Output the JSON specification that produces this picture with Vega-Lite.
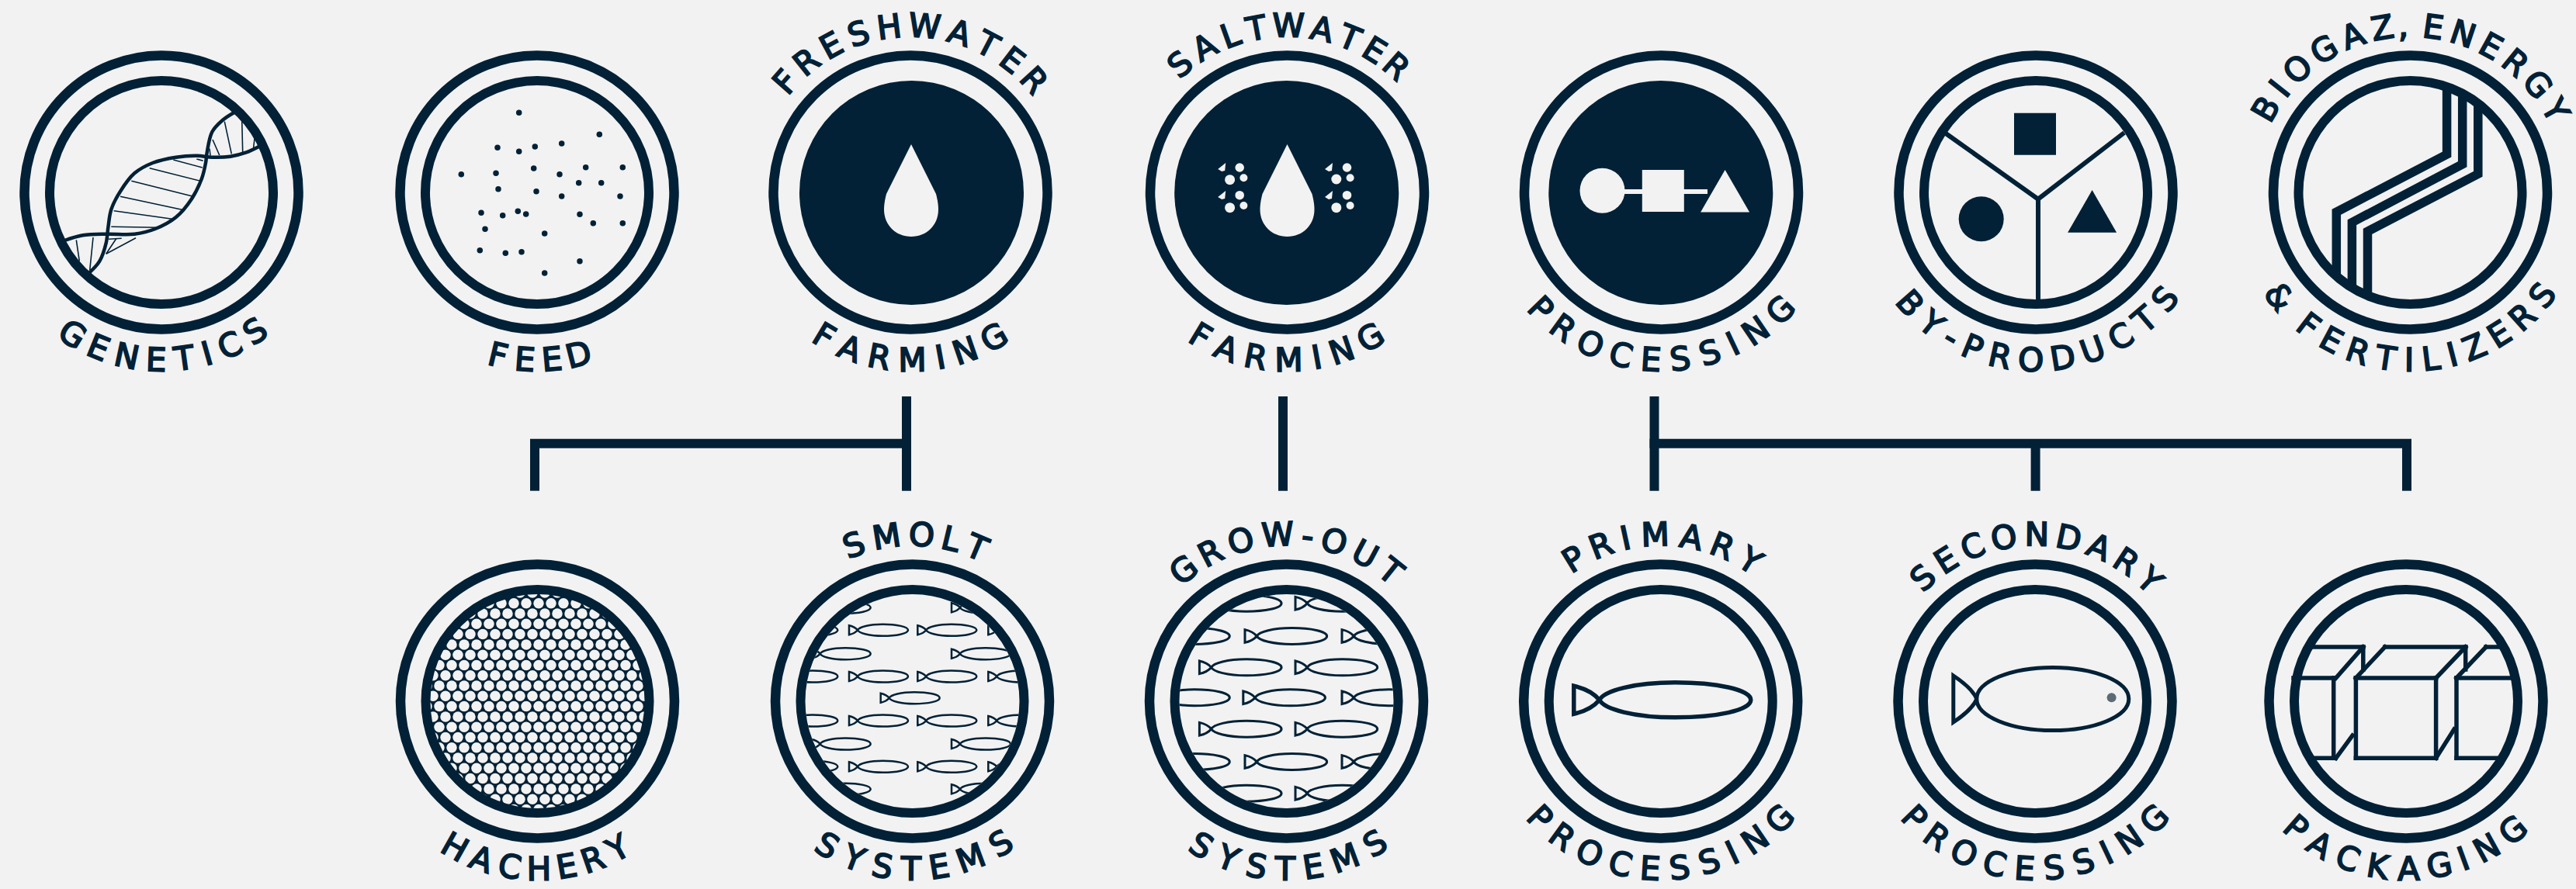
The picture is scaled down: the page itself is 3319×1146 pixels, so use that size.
{"$schema":"https://vega.github.io/schema/vega-lite/v6.json","autosize":{"type":"none"},"width":3319,"height":1146,"padding":0,"background":"#f2f2f2","config":{"view":{"stroke":null}},
"datasets":{
"rings":[{"x":208,"y":248,"inner":true},{"x":692,"y":248,"inner":true},{"x":1173,"y":248,"inner":false},{"x":1658.5,"y":248,"inner":false},{"x":2140.5,"y":248,"inner":false},{"x":2623,"y":248,"inner":true},{"x":3105.5,"y":248,"inner":true},{"x":692.5,"y":904,"inner":true},{"x":1175.5,"y":904,"inner":true},{"x":1657.5,"y":904,"inner":true},{"x":2139.7,"y":904,"inner":true},{"x":2622,"y":904,"inner":true},{"x":3100,"y":904,"inner":true}],
"disks":[{"x":1174.5,"y":248.5},{"x":1657.7,"y":248.5},{"x":2139.8,"y":248.5}],
"conn":[{"x":683,"y":571.8,"x2":1174,"y2":571.8},{"x":689,"y":566,"x2":689,"y2":632.7},{"x":1168,"y":511,"x2":1168,"y2":632.7},{"x":1653,"y":511,"x2":1653,"y2":632.7},{"x":2125.5,"y":571.8,"x2":3107,"y2":571.8},{"x":2131.5,"y":511,"x2":2131.5,"y2":632.7},{"x":2622.6,"y":566,"x2":2622.6,"y2":632.7},{"x":3101,"y":566,"x2":3101,"y2":632.7}],
"holes":[{"x":654,"y":764},{"x":670,"y":764},{"x":686,"y":764},{"x":702,"y":764},{"x":718,"y":764},
{"x":630,"y":777.7},{"x":646,"y":777.7},{"x":662,"y":777.7},{"x":678,"y":777.7},{"x":694,"y":777.7},{"x":710,"y":777.7},{"x":726,"y":777.7},{"x":742,"y":777.7},{"x":758,"y":777.7},
{"x":606,"y":791},{"x":622,"y":791},{"x":638,"y":791},{"x":654,"y":791},{"x":670,"y":791},{"x":686,"y":791},{"x":702,"y":791},{"x":718,"y":791},{"x":734,"y":791},{"x":750,"y":791},{"x":766,"y":791},{"x":782,"y":791},
{"x":598,"y":804.3},{"x":614,"y":804.3},{"x":630,"y":804.3},{"x":646,"y":804.3},{"x":662,"y":804.3},{"x":678,"y":804.3},{"x":694,"y":804.3},{"x":710,"y":804.3},{"x":726,"y":804.3},{"x":742,"y":804.3},{"x":758,"y":804.3},{"x":774,"y":804.3},{"x":790,"y":804.3},
{"x":590,"y":817.6},{"x":606,"y":817.6},{"x":622,"y":817.6},{"x":638,"y":817.6},{"x":654,"y":817.6},{"x":670,"y":817.6},{"x":686,"y":817.6},{"x":702,"y":817.6},{"x":718,"y":817.6},{"x":734,"y":817.6},{"x":750,"y":817.6},{"x":766,"y":817.6},{"x":782,"y":817.6},{"x":798,"y":817.6},
{"x":582,"y":830.9},{"x":598,"y":830.9},{"x":614,"y":830.9},{"x":630,"y":830.9},{"x":646,"y":830.9},{"x":662,"y":830.9},{"x":678,"y":830.9},{"x":694,"y":830.9},{"x":710,"y":830.9},{"x":726,"y":830.9},{"x":742,"y":830.9},{"x":758,"y":830.9},{"x":774,"y":830.9},{"x":790,"y":830.9},{"x":806,"y":830.9},
{"x":574,"y":844.2},{"x":590,"y":844.2},{"x":606,"y":844.2},{"x":622,"y":844.2},{"x":638,"y":844.2},{"x":654,"y":844.2},{"x":670,"y":844.2},{"x":686,"y":844.2},{"x":702,"y":844.2},{"x":718,"y":844.2},{"x":734,"y":844.2},{"x":750,"y":844.2},{"x":766,"y":844.2},{"x":782,"y":844.2},{"x":798,"y":844.2},{"x":814,"y":844.2},
{"x":566,"y":857.4},{"x":582,"y":857.4},{"x":598,"y":857.4},{"x":614,"y":857.4},{"x":630,"y":857.4},{"x":646,"y":857.4},{"x":662,"y":857.4},{"x":678,"y":857.4},{"x":694,"y":857.4},{"x":710,"y":857.4},{"x":726,"y":857.4},{"x":742,"y":857.4},{"x":758,"y":857.4},{"x":774,"y":857.4},{"x":790,"y":857.4},{"x":806,"y":857.4},{"x":822,"y":857.4},
{"x":558,"y":870.7},{"x":574,"y":870.7},{"x":590,"y":870.7},{"x":606,"y":870.7},{"x":622,"y":870.7},{"x":638,"y":870.7},{"x":654,"y":870.7},{"x":670,"y":870.7},{"x":686,"y":870.7},{"x":702,"y":870.7},{"x":718,"y":870.7},{"x":734,"y":870.7},{"x":750,"y":870.7},{"x":766,"y":870.7},{"x":782,"y":870.7},{"x":798,"y":870.7},{"x":814,"y":870.7},{"x":830,"y":870.7},
{"x":550,"y":884},{"x":566,"y":884},{"x":582,"y":884},{"x":598,"y":884},{"x":614,"y":884},{"x":630,"y":884},{"x":646,"y":884},{"x":662,"y":884},{"x":678,"y":884},{"x":694,"y":884},{"x":710,"y":884},{"x":726,"y":884},{"x":742,"y":884},{"x":758,"y":884},{"x":774,"y":884},{"x":790,"y":884},{"x":806,"y":884},{"x":822,"y":884},
{"x":558,"y":897.3},{"x":574,"y":897.3},{"x":590,"y":897.3},{"x":606,"y":897.3},{"x":622,"y":897.3},{"x":638,"y":897.3},{"x":654,"y":897.3},{"x":670,"y":897.3},{"x":686,"y":897.3},{"x":702,"y":897.3},{"x":718,"y":897.3},{"x":734,"y":897.3},{"x":750,"y":897.3},{"x":766,"y":897.3},{"x":782,"y":897.3},{"x":798,"y":897.3},{"x":814,"y":897.3},{"x":830,"y":897.3},
{"x":550,"y":910.6},{"x":566,"y":910.6},{"x":582,"y":910.6},{"x":598,"y":910.6},{"x":614,"y":910.6},{"x":630,"y":910.6},{"x":646,"y":910.6},{"x":662,"y":910.6},{"x":678,"y":910.6},{"x":694,"y":910.6},{"x":710,"y":910.6},{"x":726,"y":910.6},{"x":742,"y":910.6},{"x":758,"y":910.6},{"x":774,"y":910.6},{"x":790,"y":910.6},{"x":806,"y":910.6},{"x":822,"y":910.6},
{"x":558,"y":923.9},{"x":574,"y":923.9},{"x":590,"y":923.9},{"x":606,"y":923.9},{"x":622,"y":923.9},{"x":638,"y":923.9},{"x":654,"y":923.9},{"x":670,"y":923.9},{"x":686,"y":923.9},{"x":702,"y":923.9},{"x":718,"y":923.9},{"x":734,"y":923.9},{"x":750,"y":923.9},{"x":766,"y":923.9},{"x":782,"y":923.9},{"x":798,"y":923.9},{"x":814,"y":923.9},{"x":830,"y":923.9},
{"x":566,"y":937.2},{"x":582,"y":937.2},{"x":598,"y":937.2},{"x":614,"y":937.2},{"x":630,"y":937.2},{"x":646,"y":937.2},{"x":662,"y":937.2},{"x":678,"y":937.2},{"x":694,"y":937.2},{"x":710,"y":937.2},{"x":726,"y":937.2},{"x":742,"y":937.2},{"x":758,"y":937.2},{"x":774,"y":937.2},{"x":790,"y":937.2},{"x":806,"y":937.2},{"x":822,"y":937.2},
{"x":558,"y":950.4},{"x":574,"y":950.4},{"x":590,"y":950.4},{"x":606,"y":950.4},{"x":622,"y":950.4},{"x":638,"y":950.4},{"x":654,"y":950.4},{"x":670,"y":950.4},{"x":686,"y":950.4},{"x":702,"y":950.4},{"x":718,"y":950.4},{"x":734,"y":950.4},{"x":750,"y":950.4},{"x":766,"y":950.4},{"x":782,"y":950.4},{"x":798,"y":950.4},{"x":814,"y":950.4},
{"x":566,"y":963.7},{"x":582,"y":963.7},{"x":598,"y":963.7},{"x":614,"y":963.7},{"x":630,"y":963.7},{"x":646,"y":963.7},{"x":662,"y":963.7},{"x":678,"y":963.7},{"x":694,"y":963.7},{"x":710,"y":963.7},{"x":726,"y":963.7},{"x":742,"y":963.7},{"x":758,"y":963.7},{"x":774,"y":963.7},{"x":790,"y":963.7},{"x":806,"y":963.7},{"x":822,"y":963.7},
{"x":574,"y":977},{"x":590,"y":977},{"x":606,"y":977},{"x":622,"y":977},{"x":638,"y":977},{"x":654,"y":977},{"x":670,"y":977},{"x":686,"y":977},{"x":702,"y":977},{"x":718,"y":977},{"x":734,"y":977},{"x":750,"y":977},{"x":766,"y":977},{"x":782,"y":977},{"x":798,"y":977},{"x":814,"y":977},
{"x":582,"y":990.3},{"x":598,"y":990.3},{"x":614,"y":990.3},{"x":630,"y":990.3},{"x":646,"y":990.3},{"x":662,"y":990.3},{"x":678,"y":990.3},{"x":694,"y":990.3},{"x":710,"y":990.3},{"x":726,"y":990.3},{"x":742,"y":990.3},{"x":758,"y":990.3},{"x":774,"y":990.3},{"x":790,"y":990.3},{"x":806,"y":990.3},
{"x":590,"y":1003.6},{"x":606,"y":1003.6},{"x":622,"y":1003.6},{"x":638,"y":1003.6},{"x":654,"y":1003.6},{"x":670,"y":1003.6},{"x":686,"y":1003.6},{"x":702,"y":1003.6},{"x":718,"y":1003.6},{"x":734,"y":1003.6},{"x":750,"y":1003.6},{"x":766,"y":1003.6},{"x":782,"y":1003.6},{"x":798,"y":1003.6},
{"x":614,"y":1016.9},{"x":630,"y":1016.9},{"x":646,"y":1016.9},{"x":662,"y":1016.9},{"x":678,"y":1016.9},{"x":694,"y":1016.9},{"x":710,"y":1016.9},{"x":726,"y":1016.9},{"x":742,"y":1016.9},{"x":758,"y":1016.9},{"x":774,"y":1016.9},
{"x":622,"y":1030.2},{"x":638,"y":1030.2},{"x":654,"y":1030.2},{"x":670,"y":1030.2},{"x":686,"y":1030.2},{"x":702,"y":1030.2},{"x":718,"y":1030.2},{"x":734,"y":1030.2},{"x":750,"y":1030.2},
{"x":662,"y":1043.4},{"x":678,"y":1043.4},{"x":694,"y":1043.4},{"x":710,"y":1043.4},{"x":726,"y":1043.4}],
"smolt":[{"x":1045.7,"y":783.3},{"x":1226,"y":783.3},{"x":1003.3,"y":812.3},{"x":1094,"y":812.3},{"x":1182.3,"y":812.3},{"x":1273.3,"y":812.3},{"x":1045.7,"y":842.7},{"x":1226,"y":842.7},{"x":1003.3,"y":872},{"x":1094,"y":872},{"x":1182.3,"y":872},{"x":1273.3,"y":872},{"x":1134.7,"y":899.7},{"x":1003.3,"y":929},{"x":1094,"y":929},{"x":1182.3,"y":929},{"x":1273.3,"y":929},{"x":1045.7,"y":959},{"x":1226,"y":959},{"x":1003.3,"y":988.3},{"x":1094,"y":988.3},{"x":1182.3,"y":988.3},{"x":1273.3,"y":988.3},{"x":1045.7,"y":1017.3},{"x":1226,"y":1017.3}],
"grow":[{"x":1545.4,"y":777.7},{"x":1669,"y":777.7},{"x":1478.6,"y":820},{"x":1604,"y":820},{"x":1729,"y":820},{"x":1545.4,"y":860.3},{"x":1669,"y":860.3},{"x":1478.6,"y":899.3},{"x":1601.8,"y":899.3},{"x":1729,"y":899.3},{"x":1545.4,"y":939.7},{"x":1669,"y":939.7},{"x":1478.6,"y":982},{"x":1604,"y":982},{"x":1729,"y":982},{"x":1545.4,"y":1022.7},{"x":1669,"y":1022.7}],
"dnaRungs":[{"x":98.3,"y":309.3,"x2":102.3,"y2":336.7},{"x":120,"y":306,"x2":115.7,"y2":348.3},{"x":150,"y":307.3,"x2":136.7,"y2":327.3},{"x":175,"y":306.7,"x2":136.7,"y2":327.3},{"x":156.7,"y":307.3,"x2":140,"y2":308.3},{"x":143.3,"y":292.3,"x2":203.3,"y2":293.3},{"x":146.7,"y":271.7,"x2":221.7,"y2":282.3},{"x":155,"y":253.3,"x2":236.7,"y2":270.7},{"x":169.3,"y":233.3,"x2":249,"y2":253.3},{"x":192.7,"y":216.7,"x2":258.3,"y2":233.3},{"x":223.3,"y":206,"x2":260.7,"y2":216},{"x":253.3,"y":205,"x2":261.7,"y2":207.3},{"x":270,"y":191.7,"x2":271,"y2":200.7},{"x":274,"y":180,"x2":282.7,"y2":200},{"x":289.3,"y":156.7,"x2":298.3,"y2":198.3},{"x":311.7,"y":155,"x2":312.7,"y2":196},{"x":328,"y":178.3,"x2":326.7,"y2":190}],
"dnaStrands":[{"s":"A","o":0,"x":83.3,"y":310},{"s":"A","o":1,"x":106.7,"y":303.3},{"s":"A","o":2,"x":138.3,"y":301.7},{"s":"A","o":3,"x":173.3,"y":301.7},{"s":"A","o":4,"x":200,"y":295},{"s":"A","o":5,"x":226.7,"y":280},{"s":"A","o":6,"x":246.7,"y":256.7},{"s":"A","o":7,"x":260,"y":230},{"s":"A","o":8,"x":265,"y":210},{"s":"A","o":9,"x":266.7,"y":196.7},{"s":"A","o":10,"x":273.3,"y":170},{"s":"A","o":11,"x":286.7,"y":155},{"s":"A","o":12,"x":301.7,"y":145},
{"s":"B","o":0,"x":115,"y":351.7},{"s":"B","o":1,"x":128.3,"y":336.7},{"s":"B","o":2,"x":136.7,"y":313.3},{"s":"B","o":3,"x":139.3,"y":293.3},{"s":"B","o":4,"x":143.3,"y":270},{"s":"B","o":5,"x":155,"y":246.7},{"s":"B","o":6,"x":173.3,"y":223.3},{"s":"B","o":7,"x":196.7,"y":210},{"s":"B","o":8,"x":226.7,"y":202.7},{"s":"B","o":9,"x":253.3,"y":200.7},{"s":"B","o":10,"x":273.3,"y":202.7},{"s":"B","o":11,"x":296.7,"y":201.7},{"s":"B","o":12,"x":316.7,"y":196.7},{"s":"B","o":13,"x":335,"y":188.3}],
"feed":[{"x":668.7,"y":145.3},{"x":772.3,"y":173.3},{"x":641,"y":190.3},{"x":668.7,"y":195.3},{"x":689.3,"y":189},{"x":723.7,"y":185},{"x":594.3,"y":224.7},{"x":639,"y":223.3},{"x":687.7,"y":217},{"x":721,"y":224.7},{"x":754.7,"y":215.7},{"x":802.3,"y":215.7},{"x":745.7,"y":235.7},{"x":774.7,"y":235.7},{"x":642,"y":243.7},{"x":691,"y":246.7},{"x":723.7,"y":253},{"x":799,"y":253},{"x":620,"y":274.3},{"x":647.7,"y":277.7},{"x":667.3,"y":272.3},{"x":677.7,"y":276},{"x":747,"y":276.3},{"x":764.3,"y":287.7},{"x":802.3,"y":287.7},{"x":625,"y":295.3},{"x":701.7,"y":301},{"x":618.3,"y":322.7},{"x":651.3,"y":326.3},{"x":672,"y":324.7},{"x":747,"y":336.7},{"x":701.7,"y":352}],
"specks":[{"x":1584.6,"y":231.7,"k":"large"},{"x":1584.6,"y":267.7,"k":"large"},{"x":1721.8,"y":231,"k":"large"},{"x":1721.8,"y":267.7,"k":"large"},{"x":1597.2,"y":216,"k":"medium"},{"x":1597.2,"y":251.7,"k":"medium"},{"x":1735.5,"y":216,"k":"medium"},{"x":1735.5,"y":251.7,"k":"medium"},{"x":1602.4,"y":229.3,"k":"small"},{"x":1602.4,"y":265,"k":"small"},{"x":1739.6,"y":229.3,"k":"small"},{"x":1739.6,"y":265,"k":"small"}],
"slivers":[{"x":1574.2,"y":216},{"x":1574.2,"y":252},{"x":1712,"y":216},{"x":1712,"y":252}],
"byLines":[{"x":2626,"y":256.7,"x2":2505.6,"y2":171},{"x":2626,"y":256.7,"x2":2737,"y2":171},{"x":2626,"y":256.7,"x2":2626,"y2":388}],
"bio":[{"l":"a","o":0,"x":3152.6,"y":112},{"l":"a","o":1,"x":3152.6,"y":199},{"l":"a","o":2,"x":3010.3,"y":273.3},{"l":"a","o":3,"x":3010.3,"y":353},{"l":"b","o":0,"x":3172.7,"y":122},{"l":"b","o":1,"x":3172.7,"y":211.7},{"l":"b","o":2,"x":3030.4,"y":286.7},{"l":"b","o":3,"x":3030.4,"y":370},{"l":"c","o":0,"x":3192.8,"y":135},{"l":"c","o":1,"x":3192.8,"y":224.3},{"l":"c","o":2,"x":3050.5,"y":298.3},{"l":"c","o":3,"x":3050.5,"y":380}],
"boxes":[{"x":2975,"y":834,"x2":3044.8,"y2":834},{"x":2955,"y":874,"x2":3006.7,"y2":874},{"x":3006.7,"y":874,"x2":3006.7,"y2":977.3},{"x":2975,"y":977.3,"x2":3009,"y2":977.3},{"x":3009.6,"y":874,"x2":3044.8,"y2":834},{"x":3044.8,"y":834,"x2":3044.8,"y2":863},{"x":3009.6,"y":977.3,"x2":3031,"y2":948},
{"x":3035.4,"y":874,"x2":3138.6,"y2":874},{"x":3035.4,"y":977.3,"x2":3138.6,"y2":977.3},{"x":3035.4,"y":874,"x2":3035.4,"y2":977.3},{"x":3138.6,"y":874,"x2":3138.6,"y2":977.3},{"x":3035.4,"y":874,"x2":3072.9,"y2":834},{"x":3072.9,"y":834,"x2":3176.7,"y2":834},{"x":3138.6,"y":874,"x2":3176.7,"y2":834},{"x":3176.7,"y":834,"x2":3176.7,"y2":863},{"x":3138.6,"y":977.3,"x2":3162,"y2":940},
{"x":3165,"y":874,"x2":3165,"y2":977.3},{"x":3165,"y":874,"x2":3240,"y2":874},{"x":3165,"y":977.3,"x2":3225,"y2":977.3},{"x":3165,"y":874,"x2":3203,"y2":834},{"x":3203,"y":834,"x2":3225,"y2":834}],
"top":[{"x":1173,"y":248,"t":"F","a":-48.5},{"x":1173,"y":248,"t":"R","a":-38.5},{"x":1173,"y":248,"t":"E","a":-28.3},{"x":1173,"y":248,"t":"S","a":-18.1},{"x":1173,"y":248,"t":"H","a":-7.3},{"x":1173,"y":248,"t":"W","a":4.9},{"x":1173,"y":248,"t":"A","a":17.1},{"x":1173,"y":248,"t":"T","a":27.6},{"x":1173,"y":248,"t":"E","a":37.6},{"x":1173,"y":248,"t":"R","a":47.8},
{"x":1658,"y":248,"t":"S","a":-39.8},{"x":1658,"y":248,"t":"A","a":-29.5},{"x":1658,"y":248,"t":"L","a":-19.75},{"x":1658,"y":248,"t":"T","a":-10.55},{"x":1658,"y":248,"t":"W","a":0.55},{"x":1658,"y":248,"t":"A","a":12.15},{"x":1658,"y":248,"t":"T","a":22.15},{"x":1658,"y":248,"t":"E","a":31.65},{"x":1658,"y":248,"t":"R","a":41},
{"x":3105.5,"y":248,"t":"B","a":-60},{"x":3105.5,"y":248,"t":"I","a":-51.5},{"x":3105.5,"y":248,"t":"O","a":-42.4},{"x":3105.5,"y":248,"t":"G","a":-31.1},{"x":3105.5,"y":248,"t":"A","a":-20.1},{"x":3105.5,"y":248,"t":"Z","a":-9.65},{"x":3105.5,"y":248,"t":",","a":-2.5},{"x":3105.5,"y":248,"t":"E","a":7.95},{"x":3105.5,"y":248,"t":"N","a":18.4},{"x":3105.5,"y":248,"t":"E","a":28.85},{"x":3105.5,"y":248,"t":"R","a":39.05},{"x":3105.5,"y":248,"t":"G","a":49.75},{"x":3105.5,"y":248,"t":"Y","a":60.45},
{"x":1175.5,"y":904,"t":"S","a":-20.5},{"x":1175.5,"y":904,"t":"M","a":-8.9},{"x":1175.5,"y":904,"t":"O","a":3.2},{"x":1175.5,"y":904,"t":"L","a":13.4},{"x":1175.5,"y":904,"t":"T","a":22.8},
{"x":1657.5,"y":904,"t":"G","a":-38},{"x":1657.5,"y":904,"t":"R","a":-27.1},{"x":1657.5,"y":904,"t":"O","a":-15.9},{"x":1657.5,"y":904,"t":"W","a":-3},{"x":1657.5,"y":904,"t":"-","a":7.4},{"x":1657.5,"y":904,"t":"O","a":16.6},{"x":1657.5,"y":904,"t":"U","a":28.1},{"x":1657.5,"y":904,"t":"T","a":38.7},
{"x":2139.7,"y":904,"t":"P","a":-31.5},{"x":2139.7,"y":904,"t":"R","a":-21},{"x":2139.7,"y":904,"t":"I","a":-12.2},{"x":2139.7,"y":904,"t":"M","a":-1.9},{"x":2139.7,"y":904,"t":"A","a":10.6},{"x":2139.7,"y":904,"t":"R","a":21.7},{"x":2139.7,"y":904,"t":"Y","a":32.5},
{"x":2622,"y":904,"t":"S","a":-42.2},{"x":2622,"y":904,"t":"E","a":-32.2},{"x":2622,"y":904,"t":"C","a":-21.9},{"x":2622,"y":904,"t":"O","a":-10.8},{"x":2622,"y":904,"t":"N","a":0.6},{"x":2622,"y":904,"t":"D","a":11.7},{"x":2622,"y":904,"t":"A","a":22.55},{"x":2622,"y":904,"t":"R","a":33.15},{"x":2622,"y":904,"t":"Y","a":43.45}],
"bottom":[{"x":208,"y":248,"t":"G","a":212},{"x":208,"y":248,"t":"E","a":202.1},{"x":208,"y":248,"t":"N","a":191.9},{"x":208,"y":248,"t":"E","a":181.8},{"x":208,"y":248,"t":"T","a":172.2},{"x":208,"y":248,"t":"I","a":164.2},{"x":208,"y":248,"t":"C","a":155.9},{"x":208,"y":248,"t":"S","a":146},
{"x":692,"y":248,"t":"F","a":193.5},{"x":692,"y":248,"t":"E","a":184.2},{"x":692,"y":248,"t":"E","a":174.9},{"x":692,"y":248,"t":"D","a":165.7},
{"x":1173,"y":248,"t":"F","a":211},{"x":1173,"y":248,"t":"A","a":201.15},{"x":1173,"y":248,"t":"R","a":190.75},{"x":1173,"y":248,"t":"M","a":179.35},{"x":1173,"y":248,"t":"I","a":169.75},{"x":1173,"y":248,"t":"N","a":160.95},{"x":1173,"y":248,"t":"G","a":150.05},
{"x":1658,"y":248,"t":"F","a":211},{"x":1658,"y":248,"t":"A","a":201.15},{"x":1658,"y":248,"t":"R","a":190.75},{"x":1658,"y":248,"t":"M","a":179.35},{"x":1658,"y":248,"t":"I","a":169.75},{"x":1658,"y":248,"t":"N","a":160.95},{"x":1658,"y":248,"t":"G","a":150.05},
{"x":2140.5,"y":248,"t":"P","a":226},{"x":2140.5,"y":248,"t":"R","a":215.94},{"x":2140.5,"y":248,"t":"O","a":205.06},{"x":2140.5,"y":248,"t":"C","a":193.91},{"x":2140.5,"y":248,"t":"E","a":183.57},{"x":2140.5,"y":248,"t":"S","a":173.51},{"x":2140.5,"y":248,"t":"S","a":163.17},{"x":2140.5,"y":248,"t":"I","a":154.74},{"x":2140.5,"y":248,"t":"N","a":145.76},{"x":2140.5,"y":248,"t":"G","a":134.61},
{"x":2623,"y":248,"t":"B","a":228.6},{"x":2623,"y":248,"t":"Y","a":218.5},{"x":2623,"y":248,"t":"-","a":210.2},{"x":2623,"y":248,"t":"P","a":202.2},{"x":2623,"y":248,"t":"R","a":192.35},{"x":2623,"y":248,"t":"O","a":181.7},{"x":2623,"y":248,"t":"D","a":170.8},{"x":2623,"y":248,"t":"U","a":160.15},{"x":2623,"y":248,"t":"C","a":149.5},{"x":2623,"y":248,"t":"T","a":139.4},{"x":2623,"y":248,"t":"S","a":129.55},
{"x":3105.5,"y":248,"t":"&","a":231.5},{"x":3105.5,"y":248,"t":"F","a":217.4},{"x":3105.5,"y":248,"t":"E","a":208.1},{"x":3105.5,"y":248,"t":"R","a":198.25},{"x":3105.5,"y":248,"t":"T","a":188.4},{"x":3105.5,"y":248,"t":"I","a":180.4},{"x":3105.5,"y":248,"t":"L","a":172.95},{"x":3105.5,"y":248,"t":"I","a":165.5},{"x":3105.5,"y":248,"t":"Z","a":157.5},{"x":3105.5,"y":248,"t":"E","a":147.9},{"x":3105.5,"y":248,"t":"R","a":138.05},{"x":3105.5,"y":248,"t":"S","a":127.95},
{"x":692.5,"y":904,"t":"H","a":209.5},{"x":692.5,"y":904,"t":"A","a":199.5},{"x":692.5,"y":904,"t":"C","a":189.5},{"x":692.5,"y":904,"t":"H","a":179.5},{"x":692.5,"y":904,"t":"E","a":170},{"x":692.5,"y":904,"t":"R","a":160.75},{"x":692.5,"y":904,"t":"Y","a":151.3},
{"x":1175.5,"y":904,"t":"S","a":210.5},{"x":1175.5,"y":904,"t":"Y","a":200.4},{"x":1175.5,"y":904,"t":"S","a":190.3},{"x":1175.5,"y":904,"t":"T","a":180.4},{"x":1175.5,"y":904,"t":"E","a":170.8},{"x":1175.5,"y":904,"t":"M","a":159.6},{"x":1175.5,"y":904,"t":"S","a":148.1},
{"x":1657.5,"y":904,"t":"S","a":210.5},{"x":1657.5,"y":904,"t":"Y","a":200.4},{"x":1657.5,"y":904,"t":"S","a":190.3},{"x":1657.5,"y":904,"t":"T","a":180.4},{"x":1657.5,"y":904,"t":"E","a":170.8},{"x":1657.5,"y":904,"t":"M","a":159.6},{"x":1657.5,"y":904,"t":"S","a":148.1},
{"x":2139.7,"y":904,"t":"P","a":226},{"x":2139.7,"y":904,"t":"R","a":215.94},{"x":2139.7,"y":904,"t":"O","a":205.06},{"x":2139.7,"y":904,"t":"C","a":193.91},{"x":2139.7,"y":904,"t":"E","a":183.57},{"x":2139.7,"y":904,"t":"S","a":173.51},{"x":2139.7,"y":904,"t":"S","a":163.17},{"x":2139.7,"y":904,"t":"I","a":154.74},{"x":2139.7,"y":904,"t":"N","a":145.76},{"x":2139.7,"y":904,"t":"G","a":134.61},
{"x":2622,"y":904,"t":"P","a":226},{"x":2622,"y":904,"t":"R","a":215.94},{"x":2622,"y":904,"t":"O","a":205.06},{"x":2622,"y":904,"t":"C","a":193.91},{"x":2622,"y":904,"t":"E","a":183.57},{"x":2622,"y":904,"t":"S","a":173.51},{"x":2622,"y":904,"t":"S","a":163.17},{"x":2622,"y":904,"t":"I","a":154.74},{"x":2622,"y":904,"t":"N","a":145.76},{"x":2622,"y":904,"t":"G","a":134.61},
{"x":3100,"y":904,"t":"P","a":221},{"x":3100,"y":904,"t":"A","a":210.9},{"x":3100,"y":904,"t":"C","a":200.3},{"x":3100,"y":904,"t":"K","a":189.7},{"x":3100,"y":904,"t":"A","a":179.1},{"x":3100,"y":904,"t":"G","a":168.5},{"x":3100,"y":904,"t":"I","a":160},{"x":3100,"y":904,"t":"N","a":151.2},{"x":3100,"y":904,"t":"G","a":140.3}]
},
"encoding":{"x":{"field":"x","type":"quantitative","axis":null,"scale":{"domain":[0,3319],"nice":false,"zero":false}},"y":{"field":"y","type":"quantitative","axis":null,"scale":{"domain":[1146,0],"nice":false,"zero":false}}},
"resolve":{"scale":{"angle":"independent"}},
"layer":[
{"data":{"name":"conn"},"mark":{"type":"rule","color":"#022136","strokeWidth":12},"encoding":{"x2":{"field":"x2"},"y2":{"field":"y2"}}},
{"data":{"values":[{"x":692.5,"y":904}]},"mark":{"type":"point","filled":true,"color":"#022136","size":84100,"opacity":1}},
{"data":{"name":"holes"},"mark":{"type":"point","shape":"circle","filled":true,"color":"#f2f2f2","size":182,"opacity":1}},
{"data":{"name":"smolt"},"mark":{"type":"point","filled":false,"color":"#022136","strokeWidth":2.5,"size":4,"opacity":1,"shape":"M11,0 C13,-4 26,-7.5 43.5,-7.5 C61,-7.5 76,-4.5 76,0 C76,4.5 61,7.5 43.5,7.5 C26,7.5 13,4 11,0 Z M0,-6 C4.5,-5 8.5,-3 11,0 C8.5,3 4.5,5 0,6 Z"}},
{"data":{"name":"grow"},"mark":{"type":"point","filled":false,"color":"#022136","strokeWidth":3,"size":7.73,"opacity":1,"shape":"M11,0 C13,-4 26,-7.5 43.5,-7.5 C61,-7.5 76,-4.5 76,0 C76,4.5 61,7.5 43.5,7.5 C26,7.5 13,4 11,0 Z M0,-6 C4.5,-5 8.5,-3 11,0 C8.5,3 4.5,5 0,6 Z"}},
{"data":{"values":[{"x":1175.5,"y":904},{"x":1657.5,"y":904}]},"mark":{"type":"point","filled":false,"color":"#f2f2f2","strokeWidth":67,"size":117649,"opacity":1}},
{"data":{"values":[{"x":2027.8,"y":902.3}]},"mark":{"type":"point","filled":false,"color":"#022136","strokeWidth":5.5,"size":36,"opacity":1,"shape":"M11,0 C13,-4 26,-7.5 43.5,-7.5 C61,-7.5 76,-4.5 76,0 C76,4.5 61,7.5 43.5,7.5 C26,7.5 13,4 11,0 Z M0,-6 C4.5,-5 8.5,-3 11,0 C8.5,3 4.5,5 0,6 Z"}},
{"data":{"values":[{"x":2644.8,"y":901}]},"mark":{"type":"point","filled":false,"color":"#022136","strokeWidth":5,"size":4,"opacity":1,"shape":"M-98,0 C-98,-22.4 -54,-40.6 0,-40.6 C54,-40.6 98,-22.4 98,0 C98,22.4 54,40.6 0,40.6 C-54,40.6 -98,22.4 -98,0 Z M-128,-30 C-113,-20 -102,-10 -98,0 C-102,10 -113,20 -128,30 Z"}},
{"data":{"values":[{"x":2720.6,"y":899.3}]},"mark":{"type":"point","shape":"circle","filled":true,"color":"#5c6b76","size":144,"opacity":1}},
{"data":{"name":"dnaRungs"},"mark":{"type":"rule","color":"#022136","strokeWidth":1.6},"encoding":{"x2":{"field":"x2"},"y2":{"field":"y2"}}},
{"data":{"name":"dnaStrands"},"mark":{"type":"line","color":"#022136","strokeWidth":4.5,"interpolate":"catmull-rom"},"encoding":{"detail":{"field":"s"},"order":{"field":"o"}}},
{"data":{"name":"feed"},"mark":{"type":"point","shape":"circle","filled":true,"color":"#022136","size":56,"opacity":1}},
{"data":{"name":"disks"},"mark":{"type":"point","shape":"circle","filled":true,"color":"#022136","size":83521,"opacity":1}},
{"data":{"values":[{"x":1174,"y":248},{"x":1658.5,"y":248}]},"mark":{"type":"point","filled":true,"color":"#f2f2f2","size":4,"opacity":1,"shape":"M0,-62 L32,2 C34,10 35,16 35,22 C35,42 20,57 0,57 C-20,57 -35,42 -35,22 C-35,16 -34,10 -32,2 Z"}},
{"data":{"name":"specks"},"mark":{"type":"point","shape":"circle","filled":true,"color":"#f2f2f2","opacity":1},"encoding":{"size":{"field":"k","type":"nominal","legend":null,"scale":{"domain":["large","medium","small"],"range":[169,100,45]}}}},
{"data":{"name":"slivers"},"mark":{"type":"point","filled":true,"color":"#f2f2f2","size":4,"opacity":1,"shape":"M5,-6 L4,4 L0,5 L-5,2 Z"}},
{"data":{"values":[{"x":2064.5,"y":245.8}]},"mark":{"type":"point","shape":"circle","filled":true,"color":"#f2f2f2","size":3364,"opacity":1}},
{"data":{"values":[{"x":2142.8,"y":246}]},"mark":{"type":"point","shape":"square","filled":true,"color":"#f2f2f2","size":2916,"opacity":1}},
{"data":{"values":[{"x":2222.6,"y":246.2}]},"mark":{"type":"point","filled":true,"color":"#f2f2f2","size":4,"opacity":1,"shape":"M0,-27.3 L31.5,27.3 L-31.5,27.3 Z"}},
{"data":{"values":[{"x":2090,"y":247,"x2":2200,"y2":247}]},"mark":{"type":"rule","color":"#f2f2f2","strokeWidth":6},"encoding":{"x2":{"field":"x2"},"y2":{"field":"y2"}}},
{"data":{"name":"byLines"},"mark":{"type":"rule","color":"#022136","strokeWidth":6},"encoding":{"x2":{"field":"x2"},"y2":{"field":"y2"}}},
{"data":{"values":[{"x":2622,"y":172.8}]},"mark":{"type":"point","shape":"square","filled":true,"color":"#022136","size":2916,"opacity":1}},
{"data":{"values":[{"x":2552.7,"y":282.3}]},"mark":{"type":"point","shape":"circle","filled":true,"color":"#022136","size":3364,"opacity":1}},
{"data":{"values":[{"x":2695.6,"y":272.4}]},"mark":{"type":"point","filled":true,"color":"#022136","size":4,"opacity":1,"shape":"M0,-27.3 L31.5,27.3 L-31.5,27.3 Z"}},
{"data":{"name":"bio"},"mark":{"type":"line","color":"#022136","strokeWidth":11.5,"strokeJoin":"miter","strokeCap":"butt"},"encoding":{"detail":{"field":"l"},"order":{"field":"o"}}},
{"data":{"name":"boxes"},"mark":{"type":"rule","color":"#022136","strokeWidth":5.5,"strokeCap":"square"},"encoding":{"x2":{"field":"x2"},"y2":{"field":"y2"}}},
{"data":{"name":"rings"},"mark":{"type":"point","shape":"circle","filled":false,"color":"#022136","strokeWidth":12.5,"size":124609,"opacity":1}},
{"data":{"name":"rings"},"transform":[{"filter":"datum.inner"}],"mark":{"type":"point","shape":"circle","filled":false,"color":"#022136","strokeWidth":12,"size":82944,"opacity":1}},
{"data":{"name":"top"},"mark":{"type":"text","font":"DejaVu Sans","fontSize":42,"color":"#022136","stroke":"#022136","strokeWidth":2,"align":"center","baseline":"middle"},"encoding":{"text":{"field":"t"},"radius":{"value":213.5},"theta":{"field":"a","type":"quantitative","scale":{"domain":[0,360],"range":[0,6.283185]}},"angle":{"field":"a","type":"quantitative","legend":null,"scale":{"domain":[-180,180],"range":[-180,180]}}}},
{"data":{"name":"bottom"},"mark":{"type":"text","font":"DejaVu Sans","fontSize":42,"color":"#022136","stroke":"#022136","strokeWidth":2,"align":"center","baseline":"middle"},"encoding":{"text":{"field":"t"},"radius":{"value":217.5},"theta":{"field":"a","type":"quantitative","scale":{"domain":[0,360],"range":[0,6.283185]}},"angle":{"field":"a","type":"quantitative","legend":null,"scale":{"domain":[0,360],"range":[-180,180]}}}}
]}
